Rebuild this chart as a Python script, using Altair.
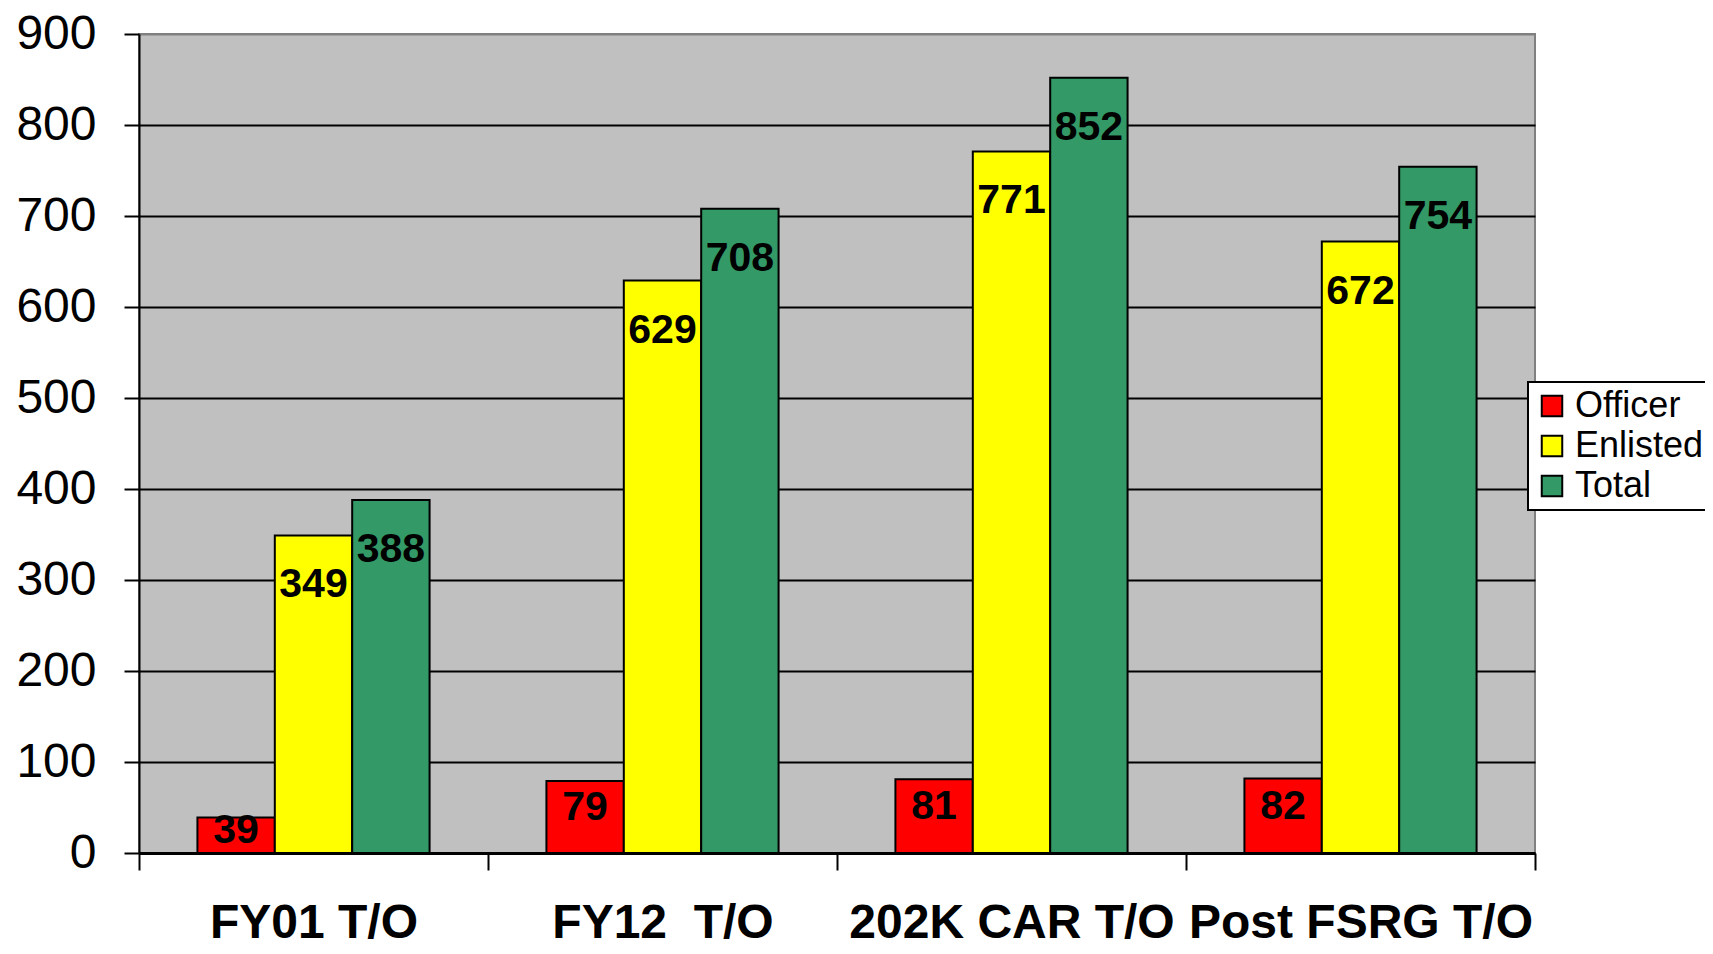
import altair as alt
import pandas as pd

categories = ["FY01 T/O", "FY12 \u00a0T/O", "202K CAR T/O", "Post FSRG T/O"]
series = ["Officer", "Enlisted", "Total"]
officer = [39, 79, 81, 82]
enlisted = [349, 629, 771, 672]
total = [388, 708, 852, 754]
colors = ["#FF0000", "#FFFF00", "#339966"]
y_ticks = [0, 100, 200, 300, 400, 500, 600, 700, 800, 900]

rows = []
for i, c in enumerate(categories):
    for s, vals in zip(series, [officer, enlisted, total]):
        rows.append({"category": c, "series": s, "value": vals[i]})
df = pd.DataFrame(rows)

FONT = "Liberation Sans, Arial, sans-serif"

x_enc = alt.X(
    "category:N",
    sort=categories,
    scale=alt.Scale(paddingInner=0, paddingOuter=0),
    axis=alt.Axis(
        title=None,
        labelAngle=0,
        labelFont=FONT,
        labelFontSize=48,
        labelFontWeight="bold",
        labelColor="black",
        labelBaseline="middle",
        labelPadding=53,
        labelOverlap=False,
        labelLimit=0,
        tickBand="extent",
        tickColor="black",
        tickWidth=2,
        tickSize=17,
        domainColor="black",
        domainWidth=3,
        grid=False,
    ),
)
xo_enc = alt.XOffset(
    "series:N", sort=series, scale=alt.Scale(paddingInner=0, paddingOuter=0.755)
)

bars = alt.Chart(df).mark_bar(stroke="black", strokeWidth=2).encode(
    x=x_enc,
    xOffset=xo_enc,
    y=alt.Y(
        "value:Q",
        scale=alt.Scale(domain=[0, 900], nice=False),
        axis=alt.Axis(
            title=None,
            values=y_ticks,
            labelFont=FONT,
            labelFontSize=48,
            labelColor="black",
            labelPadding=28,
            tickColor="black",
            tickWidth=2,
            tickSize=15,
            domainColor="black",
            domainWidth=2,
            grid=True,
            gridColor={"condition": {"test": "datum.value == 900", "value": "#808080"}, "value": "black"},
            gridWidth=2,
        ),
    ),
    color=alt.Color(
        "series:N",
        sort=series,
        scale=alt.Scale(domain=series, range=colors),
        legend=alt.Legend(
            title=None,
            orient="none",
            legendX=1389,
            legendY=348,
            symbolType="square",
            symbolSize=420,
            symbolStrokeColor="black",
            symbolStrokeWidth=2,
            labelFont=FONT,
            labelFontSize=36,
            labelColor="black",
            labelOffset=5,
            rowPadding=4,
            padding=6,
            fillColor="white",
            strokeColor="black",
        ),
    ),
)

labels = alt.Chart(df).transform_calculate(
    pos="max(datum.value - 55, datum.value * 0.62)"
).mark_text(
    font=FONT, fontSize=41, fontWeight="bold", baseline="middle", color="black"
).encode(
    x=alt.X("category:N", sort=categories),
    xOffset=alt.XOffset("series:N", sort=series),
    y=alt.Y("pos:Q", title=None),
    text="value:Q",
)

chart = alt.layer(bars, labels).properties(
    width=1396,
    height=819,
    autosize=alt.AutoSizeParams(type="none"),
    padding={"left": 131, "top": 26, "right": 170, "bottom": 93},
).configure_view(
    fill="#C0C0C0", stroke="#808080", strokeWidth=2
).configure_legend(strokeWidth=2)

chart.save("out.html", embed_options={"renderer": "svg", "actions": False})
